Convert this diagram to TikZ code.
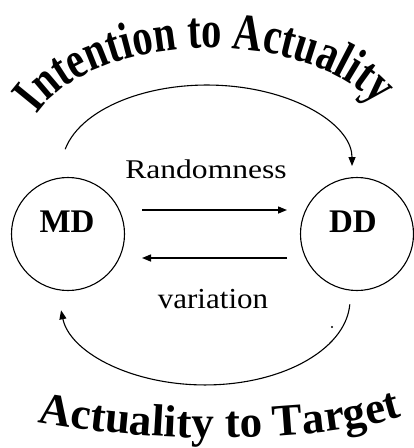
\documentclass[tikz,border=0pt]{standalone}
\usepackage{fontspec}
\setmainfont{Liberation Serif}
\newfontfamily\arcfont[FakeStretch=0.78]{Liberation Serif}
\usetikzlibrary{arrows.meta,decorations.text}
\tikzset{
  state/.style={circle,draw,line width=1.1pt,minimum size=113pt,inner sep=0pt},
  statelabel/.style={font=\bfseries\fontsize{33}{33}\selectfont,inner sep=0pt,anchor=base},
  flow/.style={line width=1.4pt,-{Triangle[length=9pt,width=7pt]}},
  cycle/.style={line width=1.1pt,-{Triangle[length=9pt,width=7pt]}},
  lbl/.style={inner sep=0pt,anchor=base}
}
\begin{document}
\begin{tikzpicture}[x=1pt,y=1pt]
\useasboundingbox (0,0) rectangle (414,-448);
% states
\node[state] (MD) at (68,-234) {};
\node[state] (DD) at (357,-234) {};
\node[statelabel] (MDt) at (67,-232) {MD};
\node[statelabel] (DDt) at (353,-232) {DD};
% straight arrows
\coordinate (r1) at (142,-210);
\coordinate (r2) at (287,-210);
\coordinate (v1) at (287,-258);
\coordinate (v2) at (142,-258);
\draw[flow] (r1) -- (r2);
\draw[flow] (v1) -- (v2);
\node[lbl,xscale=1.17,font=\fontsize{27}{27}\selectfont] (rand) at (206,-178) {Randomness};
\node[lbl,xscale=1.07,font=\fontsize{29}{29}\selectfont] (var) at (213,-308) {variation};
% cycle arcs
\coordinate (tA) at (65.2,-149.2);
\coordinate (bA) at (349.8,-304.4);
\draw[cycle] (tA) arc[start angle=168,end angle=0,x radius=145,y radius=81];
\draw[cycle] (bA) arc[start angle=-3,end angle=-173,x radius=145,y radius=85];
% stray dot
\fill (332,-327) circle (1.1);
% curved titles
\path[decorate,decoration={text along path,text align=center,
  text={|\arcfont\bfseries\fontsize{52}{52}\selectfont|Intention to Actuality}}]
  (210,-150) ++(160:185 and 102) arc[start angle=160,end angle=25,x radius=185,y radius=102];
\path[decorate,decoration={text along path,text align=center,
  text={|\bfseries\fontsize{45}{45}\selectfont|Actuality to Target}}]
  (35,-422) .. controls (170,-446) and (320,-442) .. (404,-416);
\end{tikzpicture}
\end{document}
